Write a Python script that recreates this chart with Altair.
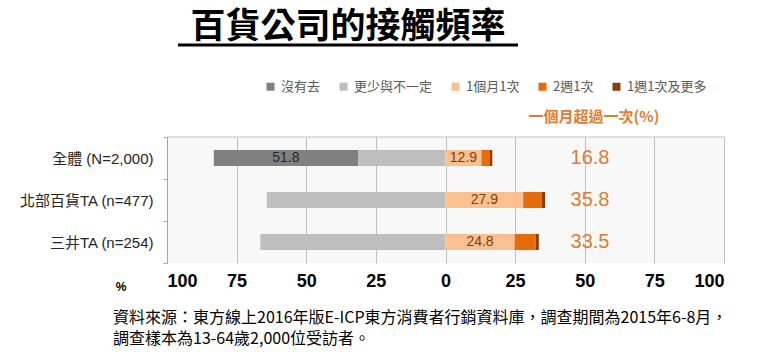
import altair as alt
import pandas as pd

# ---- data ----
groups = ["全體 (N=2,000)", "北部百貨TA (n=477)", "三井TA (n=254)"]
categories = ["沒有去", "更少與不一定", "1個月1次", "2週1次", "1週1次及更多"]
colors = ["#808080", "#bfbfbf", "#fac08f", "#e46c0a", "#8b3d07"]
never = [51.8, 0.0, 0.0]
less = [31.4, 64.2, 66.5]
monthly = [12.9, 27.9, 24.8]
biweekly = [2.9, 6.7, 7.6]
weekly = [1.0, 1.2, 1.1]
over_once = [16.8, 35.8, 33.5]
x_ticks = [-100, -75, -50, -25, 0, 25, 50, 75, 100]

title_text = "百貨公司的接觸頻率"
header_text = "一個月超過一次(%)"
note_1 = "資料來源：東方線上2016年版E-ICP東方消費者行銷資料庫，調查期間為2015年6-8月，"
note_2 = "調查樣本為13-64歲2,000位受訪者。"

FONT = "Liberation Sans, Noto Sans CJK TC, sans-serif"
CJK = "Noto Sans CJK TC, Liberation Sans, sans-serif"
ORANGE = "#e07b30"

# ---- build segments (diverging stack) ----
rows = []
for i, g in enumerate(groups):
    segs = [
        ("沒有去", -(less[i] + never[i]), -less[i], never[i]),
        ("更少與不一定", -less[i], 0.0, less[i]),
        ("1個月1次", 0.0, monthly[i], monthly[i]),
        ("2週1次", monthly[i], monthly[i] + biweekly[i], biweekly[i]),
        ("1週1次及更多", monthly[i] + biweekly[i], monthly[i] + biweekly[i] + weekly[i], weekly[i]),
    ]
    for cat, s, e, v in segs:
        if v > 0:
            rows.append({"group": g, "cat": cat, "start": s, "end": e,
                         "mid": (s + e) / 2, "value": v,
                         "order": categories.index(cat)})
df = pd.DataFrame(rows)
df_over = pd.DataFrame({"group": groups, "over": over_once})

xscale = alt.Scale(domain=[-100, 100], nice=False, zero=False)
yenc = alt.Y("group:N", sort=groups, scale=alt.Scale(paddingInner=0, paddingOuter=0),
             axis=alt.Axis(title=None, labelFont=FONT, labelFontSize=15, labelColor="#262626",
                           labelPadding=10, tickSize=4, tickColor="#a6a6a6",
                           domainColor="#a6a6a6", tickBand="extent", grid=False))

bars = alt.Chart(df).mark_bar(size=16).encode(
    x=alt.X("start:Q", scale=xscale,
            axis=alt.Axis(values=x_ticks, labelExpr="abs(datum.value)", title=None,
                          grid=True, gridColor="#bfbfbf", ticks=False, domain=False,
                          labelFont="Liberation Sans Narrow, Liberation Sans, sans-serif",
                          labelFontWeight="bold", labelFontSize=18, labelColor="#000000",
                          labelPadding=9)),
    x2="end:Q",
    y=yenc,
    color=alt.Color("cat:N", scale=alt.Scale(domain=categories, range=colors),
                    legend=alt.Legend(title=None, orient="none", direction="horizontal",
                                      legendX=97, legendY=-57, symbolType="square",
                                      symbolSize=64, symbolStrokeWidth=0,
                                      labelFont=CJK, labelFontSize=13, labelColor="#595959",
                                      labelOffset=4, columnPadding=16)),
    order="order:Q",
)

lab_dark = alt.Chart(df[(df["cat"] == "沒有去") & (df["value"] > 5)]).mark_text(
    font=FONT, fontSize=14, color="#262626", baseline="middle").encode(
    x=alt.X("mid:Q", scale=xscale), y=alt.Y("group:N", sort=groups), text=alt.Text("value:Q", format=".1f"))

lab_month = alt.Chart(df[df["cat"] == "1個月1次"]).mark_text(
    font=FONT, fontSize=14, color="#7f3f10", baseline="middle").encode(
    x=alt.X("mid:Q", scale=xscale), y=alt.Y("group:N", sort=groups), text=alt.Text("value:Q", format=".1f"))

over = alt.Chart(df_over).mark_text(font=FONT, fontSize=20, color=ORANGE, baseline="middle").encode(
    x=alt.value(423), y=alt.Y("group:N", sort=groups), text=alt.Text("over:Q", format=".1f"))

header = alt.Chart(pd.DataFrame({"t": [header_text]})).mark_text(
    font=CJK, fontSize=15, fontWeight="bold", color=ORANGE, baseline="middle").encode(
    x=alt.value(427), y=alt.value(-20), text="t:N")

title = alt.Chart(pd.DataFrame({"t": [title_text]})).mark_text(
    font=CJK, fontSize=35, fontWeight="bold", color="#000000", baseline="middle").encode(
    x=alt.value(181), y=alt.value(-110), text="t:N")

underline = alt.Chart(pd.DataFrame({"a": [0]})).mark_rule(color="#000000", strokeWidth=3).encode(
    x=alt.value(11), x2=alt.value(351), y=alt.value(-92))

topline = alt.Chart(pd.DataFrame({"a": [0]})).mark_rule(color="#bfbfbf", strokeWidth=1).encode(
    x=alt.value(0), x2=alt.value(557), y=alt.value(0))

pct = alt.Chart(pd.DataFrame({"t": ["%"]})).mark_text(
    font=FONT, fontSize=12, fontWeight="bold", color="#000000", baseline="middle").encode(
    x=alt.value(-46), y=alt.value(150), text="t:N")

notes = alt.Chart(pd.DataFrame({"t": [note_1, note_2], "y": [181, 202]})).mark_text(
    font=CJK, fontSize=16, color="#000000", align="left", baseline="middle").encode(
    x=alt.value(-54), y=alt.Y("y:Q", scale=None), text="t:N")

chart = alt.layer(topline, bars, lab_dark, lab_month, over, header, title, underline, pct, notes).properties(
    width=557, height=126,
    padding={"left": 167, "top": 137, "right": 34, "bottom": 89},
    autosize=alt.AutoSizeParams(type="none"),
    background="#ffffff",
).configure_view(fill="#f8f8f8", stroke=None)

chart.save("out.html", embed_options={"renderer": "svg", "actions": False})
